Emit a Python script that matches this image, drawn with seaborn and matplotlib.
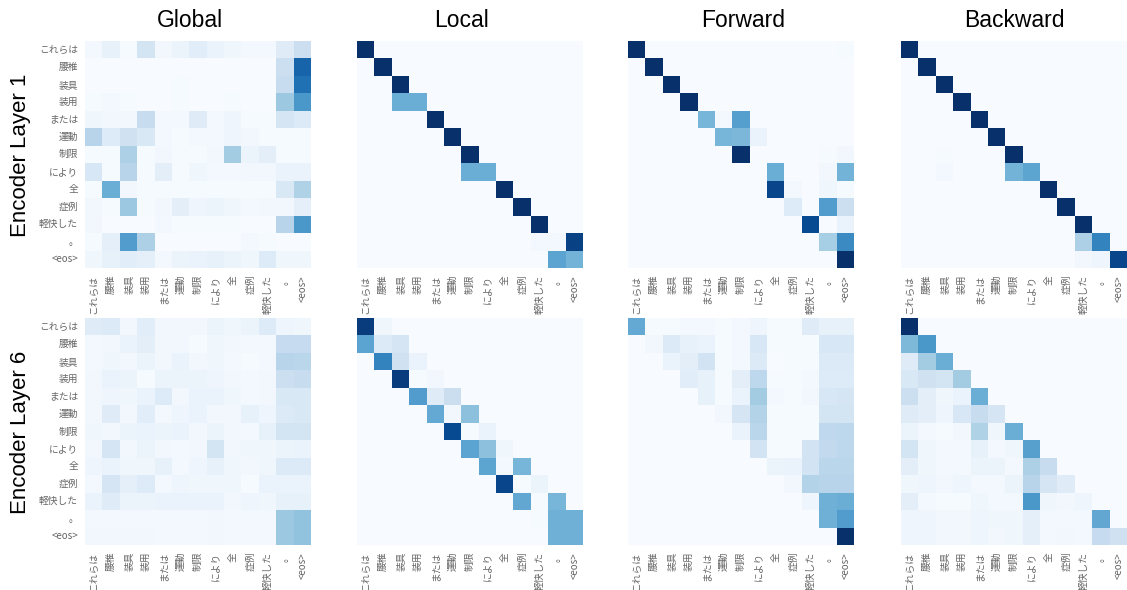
import matplotlib
matplotlib.use("Agg")
import matplotlib.pyplot as plt
import seaborn as sns

tokens = ["これらは", "腰椎", "装具", "装用", "または", "運動", "制限", "により", "全", "症例", "軽快した", "。", "<eos>"]
columns = ["Global", "Local", "Forward", "Backward"]
rows = ["Encoder Layer 1", "Encoder Layer 6"]

global_1 = [
    [.02, .08, .01, .18, .03, .06, .11, .07, .04, .02, .02, .12, .22],
    [0, 0, 0, 0, 0, 0, 0, 0, 0, 0, 0, .22, .80],
    [0, 0, 0, 0, 0, .01, 0, 0, 0, 0, 0, .24, .75],
    [.01, .02, .01, 0, 0, .01, 0, 0, .01, 0, 0, .38, .60],
    [.04, .03, .03, .24, .02, .02, .12, .02, .05, .01, .01, .17, .14],
    [.30, .13, .20, .15, .02, .01, .02, .02, .05, .03, .01, .01, .01],
    [.01, .01, .33, .01, .03, .01, .01, .03, .36, .06, .10, .01, .01],
    [.16, .01, .30, .01, .10, .01, .04, .02, .02, .03, .03, .07, .07],
    [.01, .50, .03, .01, .01, .01, .01, .01, .01, .01, .01, .15, .32],
    [.03, .01, .38, .01, .03, .10, .05, .06, .04, .02, .03, .03, .09],
    [.03, 0, 0, 0, .02, .01, .01, .01, .01, 0, 0, .30, .60],
    [.01, .09, .58, .33, 0, 0, 0, 0, 0, .02, .01, 0, 0],
    [.04, .08, .11, .09, .02, .06, .07, .08, .06, .04, .13, .04, .04],
]
global_6 = [
    [.12, .14, .03, .11, .03, .03, .03, .06, .04, .06, .13, .05, .04],
    [.02, .03, .07, .10, .03, .03, .01, .04, .03, .02, .02, .25, .25],
    [.02, .04, .03, .06, .03, .07, .03, .04, .02, .01, .02, .30, .29],
    [.03, .07, .06, .01, .06, .06, .06, .05, .03, .02, .03, .22, .24],
    [.03, .05, .04, .07, .13, .03, .07, .07, .04, .02, .03, .15, .15],
    [.03, .12, .03, .11, .02, .05, .07, .03, .03, .08, .05, .14, .15],
    [.04, .03, .06, .07, .06, .07, .03, .06, .03, .02, .08, .18, .18],
    [.03, .17, .03, .06, .03, .02, .03, .18, .03, .04, .04, .06, .07],
    [.05, .07, .04, .04, .08, .02, .05, .08, .04, .03, .04, .14, .14],
    [.02, .17, .09, .13, .02, .05, .04, .04, .04, .01, .07, .07, .07],
    [.07, .12, .06, .06, .07, .07, .07, .07, .03, .05, .04, .08, .08],
    [.02, .02, .02, .02, .02, .02, .02, .03, .02, .02, .02, .38, .41],
    [.03, .03, .03, .03, .02, .02, .02, .03, .02, .02, .02, .38, .41],
]
local_1 = [
    [1, 0, 0, 0, 0, 0, 0, 0, 0, 0, 0, 0, 0],
    [0, 1, 0, 0, 0, 0, 0, 0, 0, 0, 0, 0, 0],
    [0, 0, 1, 0, 0, 0, 0, 0, 0, 0, 0, 0, 0],
    [0, 0, .50, .50, 0, 0, 0, 0, 0, 0, 0, 0, 0],
    [0, 0, 0, 0, 1, 0, 0, 0, 0, 0, 0, 0, 0],
    [0, 0, 0, 0, 0, 1, 0, 0, 0, 0, 0, 0, 0],
    [0, 0, 0, 0, 0, 0, 1, 0, 0, 0, 0, 0, 0],
    [0, 0, 0, 0, 0, 0, .50, .50, 0, 0, 0, 0, 0],
    [0, 0, 0, 0, 0, 0, 0, 0, 1, 0, 0, 0, 0],
    [0, 0, 0, 0, 0, 0, 0, 0, 0, 1, 0, 0, 0],
    [0, 0, 0, 0, 0, 0, 0, 0, 0, 0, 1, 0, 0],
    [0, 0, 0, 0, 0, 0, 0, 0, 0, 0, .02, .02, .93],
    [0, 0, 0, 0, 0, 0, 0, 0, 0, 0, 0, .55, .48],
]
local_6 = [
    [.95, .04, 0, 0, 0, 0, 0, 0, 0, 0, 0, 0, 0],
    [.55, .14, .17, 0, 0, 0, 0, 0, 0, 0, 0, 0, 0],
    [0, .68, .20, .07, 0, 0, 0, 0, 0, 0, 0, 0, 0],
    [0, 0, .95, .01, .03, 0, 0, 0, 0, 0, 0, 0, 0],
    [0, 0, 0, .58, .12, .23, 0, 0, 0, 0, 0, 0, 0],
    [0, 0, 0, 0, .52, .03, .42, 0, 0, 0, 0, 0, 0],
    [0, 0, 0, 0, 0, .90, .01, .07, 0, 0, 0, 0, 0],
    [0, 0, 0, 0, 0, 0, .55, .42, .04, 0, 0, 0, 0],
    [0, 0, 0, 0, 0, 0, 0, .54, .02, .47, 0, 0, 0],
    [0, 0, 0, 0, 0, 0, 0, 0, .92, .01, .06, 0, 0],
    [0, 0, 0, 0, 0, 0, 0, 0, 0, .53, .01, .47, 0],
    [0, 0, 0, 0, 0, 0, 0, 0, 0, 0, .01, .49, .49],
    [0, 0, 0, 0, 0, 0, 0, 0, 0, 0, 0, .49, .49],
]
forward_1 = [
    [1, 0, 0, 0, 0, 0, 0, 0, 0, 0, 0, 0, .01],
    [0, 1, 0, 0, 0, 0, 0, 0, 0, 0, 0, 0, 0],
    [0, 0, 1, 0, 0, 0, 0, 0, 0, 0, 0, 0, 0],
    [0, 0, 0, 1, 0, 0, 0, 0, 0, 0, 0, 0, 0],
    [0, 0, 0, 0, .47, .02, .57, 0, 0, 0, 0, 0, 0],
    [0, 0, 0, 0, 0, .47, .46, .07, 0, 0, 0, 0, 0],
    [0, 0, 0, 0, 0, 0, 1, 0, 0, 0, 0, .01, .03],
    [0, 0, 0, 0, 0, 0, 0, 0, .50, 0, 0, .03, .48],
    [0, 0, 0, 0, 0, 0, 0, 0, .92, .02, 0, .04, .01],
    [0, 0, 0, 0, 0, 0, 0, 0, 0, .13, 0, .58, .22],
    [0, 0, 0, 0, 0, 0, 0, 0, 0, 0, .90, 0, .07],
    [0, 0, 0, 0, 0, 0, 0, 0, 0, 0, 0, .35, .65],
    [0, 0, 0, 0, 0, 0, 0, 0, 0, 0, 0, 0, 1],
]
forward_6 = [
    [.52, .01, .01, .02, .02, .01, .02, .05, .01, .01, .12, .08, .08],
    [0, .03, .14, .08, .07, .01, .02, .16, .01, .01, .01, .16, .16],
    [0, 0, .07, .10, .19, .01, .02, .14, 0, .01, .01, .14, .14],
    [0, 0, 0, .11, .08, .01, .10, .28, .01, .01, .02, .13, .13],
    [0, 0, 0, 0, .08, .01, .07, .36, .02, .01, .03, .16, .17],
    [0, 0, 0, 0, 0, .03, .17, .31, .01, .01, .01, .18, .18],
    [0, 0, 0, 0, 0, 0, .07, .29, .01, .01, .01, .27, .28],
    [0, 0, 0, 0, 0, 0, 0, .19, .01, .01, .19, .26, .28],
    [0, 0, 0, 0, 0, 0, 0, 0, .06, .07, .19, .29, .29],
    [0, 0, 0, 0, 0, 0, 0, 0, 0, .03, .31, .30, .30],
    [0, 0, 0, 0, 0, 0, 0, 0, 0, 0, .05, .49, .50],
    [0, 0, 0, 0, 0, 0, 0, 0, 0, 0, 0, .49, .58],
    [0, 0, 0, 0, 0, 0, 0, 0, 0, 0, 0, 0, 1],
]
backward_1 = [
    [1, 0, 0, 0, 0, 0, 0, 0, 0, 0, 0, 0, 0],
    [0, 1, 0, 0, 0, 0, 0, 0, 0, 0, 0, 0, 0],
    [0, 0, 1, 0, 0, 0, 0, 0, 0, 0, 0, 0, 0],
    [0, 0, 0, 1, 0, 0, 0, 0, 0, 0, 0, 0, 0],
    [0, 0, 0, 0, 1, 0, 0, 0, 0, 0, 0, 0, 0],
    [0, 0, 0, 0, 0, 1, 0, 0, 0, 0, 0, 0, 0],
    [0, 0, .01, 0, 0, 0, 1, 0, 0, 0, 0, 0, 0],
    [0, 0, .02, 0, 0, 0, .48, .54, 0, 0, 0, 0, 0],
    [0, 0, 0, 0, 0, 0, 0, 0, 1, 0, 0, 0, 0],
    [0, 0, 0, 0, 0, 0, 0, 0, 0, 1, 0, 0, 0],
    [0, 0, 0, 0, 0, 0, 0, 0, 0, 0, 1, 0, 0],
    [0, 0, 0, 0, 0, 0, 0, 0, 0, 0, .33, .68, 0],
    [0, 0, 0, 0, 0, 0, 0, 0, 0, 0, .03, .05, .92],
]
backward_6 = [
    [1, 0, 0, 0, 0, 0, 0, 0, 0, 0, 0, 0, 0],
    [.45, .60, 0, 0, 0, 0, 0, 0, 0, 0, 0, 0, 0],
    [.12, .36, .50, 0, 0, 0, 0, 0, 0, 0, 0, 0, 0],
    [.15, .20, .18, .36, 0, 0, 0, 0, 0, 0, 0, 0, 0],
    [.22, .10, .04, .07, .50, 0, 0, 0, 0, 0, 0, 0, 0],
    [.12, .10, .05, .16, .24, .17, 0, 0, 0, 0, 0, 0, 0],
    [.06, .02, .01, .03, .32, .04, .50, 0, 0, 0, 0, 0, 0],
    [.18, .04, .02, .02, .08, .02, .04, .56, 0, 0, 0, 0, 0],
    [.10, .04, .02, .02, .06, .06, .02, .33, .24, 0, 0, 0, 0],
    [.04, .05, .03, .05, .02, .02, .06, .30, .17, .12, 0, 0, 0],
    [.10, .02, .01, .01, .04, .02, .02, .60, .04, .03, .05, 0, 0],
    [.05, .05, .03, .03, .05, .04, .04, .09, .02, .02, .02, .53, 0],
    [.05, .05, .03, .03, .05, .03, .04, .09, .02, .03, .02, .25, .20],
]

matrices = [[global_1, local_1, forward_1, backward_1],
            [global_6, local_6, forward_6, backward_6]]

W, H = 1127, 590
lefts = [85, 357, 628, 901]
tops = [41, 318]
size_x, size_y = 226, 227
title_x = [190, 462, 743, 1014]

fig = plt.figure(figsize=(W / 100, H / 100), dpi=100)

for i, top in enumerate(tops):
    for j, left in enumerate(lefts):
        ax = fig.add_axes([left / W, 1 - (top + size_y) / H, size_x / W, size_y / H])
        sns.heatmap(matrices[i][j], ax=ax, cmap="Blues", vmin=0, vmax=1, cbar=False,
                    xticklabels=tokens, yticklabels=tokens if j == 0 else False)
        ax.tick_params(length=0, pad=5, labelsize=7, labelcolor="#666666")
        ax.set_xticklabels(tokens, rotation=90, family=["Noto Sans CJK JP", "DejaVu Sans"])
        if j == 0:
            ax.set_yticklabels(tokens, rotation=0, family=["Noto Sans CJK JP", "DejaVu Sans"])
            fig.text(31 / W, 1 - (top + size_y / 2 + 1) / H, rows[i], rotation=90, ha="right", va="center",
                     fontsize=16, family="Liberation Sans")
        if i == 0:
            fig.text(title_x[j] / W, 1 - 27 / H, columns[j], ha="center", va="baseline",
                     fontsize=16.5, family="Liberation Sans")

fig.savefig("out.png", dpi=100)
